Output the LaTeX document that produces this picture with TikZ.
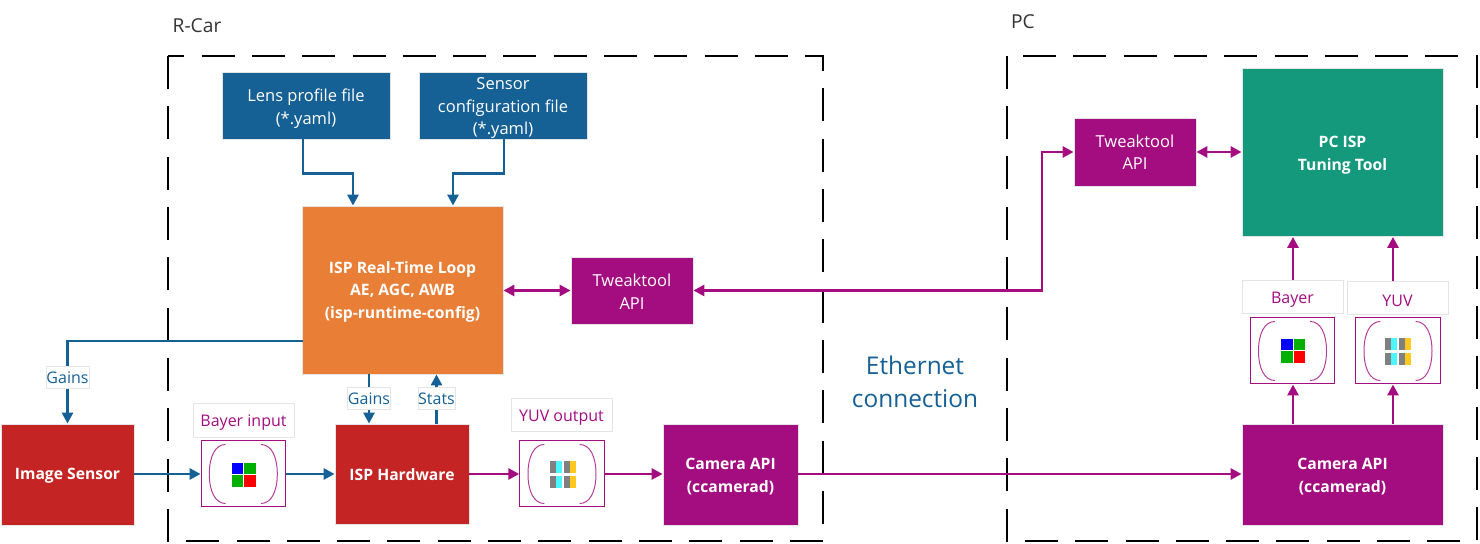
\documentclass[tikz,border=0pt]{standalone}
\usepackage{fontspec}
\setmainfont{Open Sans}
\usetikzlibrary{arrows.meta,calc}
\definecolor{cblue}{HTML}{156095}
\definecolor{cpurple}{HTML}{A30D80}
\definecolor{cgreen}{HTML}{15997D}
\definecolor{corange}{HTML}{E97E36}
\definecolor{cred}{HTML}{C42423}
\definecolor{edgegray}{HTML}{E4E4E4}
\definecolor{ccyan}{HTML}{4DF5FF}
\definecolor{cyell}{HTML}{FFC820}
\definecolor{cgreensq}{HTML}{00B000}
\newcommand{\tstrut}[1]{\rule{0pt}{#1}}
\newcommand{\bayericon}[2]{%
  \fill[blue] (#1-12,#2-12) rectangle (#1-0.5,#2-0.5);
  \fill[cgreensq] (#1+0.5,#2-12) rectangle (#1+12,#2-0.5);
  \fill[cgreensq] (#1-12,#2+0.5) rectangle (#1-0.5,#2+12);
  \fill[red] (#1+0.5,#2+0.5) rectangle (#1+12,#2+12);}
\newcommand{\yuvrow}[2]{%
  \fill[gray] (#1-13,#2) rectangle (#1-7.5,#2+12);
  \fill[ccyan] (#1-7.5,#2) rectangle (#1-1,#2+12);
  \fill[gray] (#1+1,#2) rectangle (#1+6.5,#2+12);
  \fill[cyell] (#1+6.5,#2) rectangle (#1+13,#2+12);}
\newcommand{\yuvicon}[2]{\yuvrow{#1}{#2-13.5}\yuvrow{#1}{#2+1.5}}
\newcommand{\parens}[1]{%
  \draw[parenline] ($(#1.north west)+(25,4)$) .. controls ($(#1.north west)+(15,4)$) and ($(#1.west)+(8.7,-18)$) .. ($(#1.west)+(8.7,0)$) .. controls ($(#1.west)+(8.7,18)$) and ($(#1.south west)+(15,-4)$) .. ($(#1.south west)+(25,-4)$);
  \draw[parenline] ($(#1.north east)+(-25,4)$) .. controls ($(#1.north east)+(-15,4)$) and ($(#1.east)+(-8.7,-18)$) .. ($(#1.east)+(-8.7,0)$) .. controls ($(#1.east)+(-8.7,18)$) and ($(#1.south east)+(-15,-4)$) .. ($(#1.south east)+(-25,-4)$);}
\tikzset{
  x=0.5pt,y=-0.5pt,
  block/.style={inner sep=0pt,align=center,text=white,font=\fontsize{8.25}{11.25}\selectfont,draw=edgegray,line width=0.4pt},
  boldblock/.style={block,font=\fontsize{7.85}{11.25}\selectfont\bfseries},
  lbl/.style={inner sep=0pt,draw=edgegray,line width=0.5pt,fill=white,font=\fontsize{8}{9}\selectfont},
  matbox/.style={inner sep=0pt,draw=cpurple,line width=0.5pt,minimum width=42.2pt,minimum height=33pt},
  parenline/.style={cpurple!80,line width=0.5pt},
  bluecon/.style={cblue,line width=1.4pt,-{Triangle[length=5.5pt,width=5.5pt]}},
  bluecons/.style={cblue,line width=1.4pt},
  purcon/.style={cpurple,line width=1.4pt,-{Triangle[length=5.5pt,width=5.5pt]}},
  purtwo/.style={cpurple,line width=1.4pt,{Triangle[length=5.5pt,width=5.5pt]}-{Triangle[length=5.5pt,width=5.5pt]}},
  region/.style={black,line width=1.1pt,dash pattern=on 16.5pt off 8.65pt},
}
\begin{document}
\begin{tikzpicture}
\useasboundingbox (0,0) rectangle (1480,544);
% regions
\coordinate (rca) at (168,56); \coordinate (rcb) at (823,541);
\coordinate (pca) at (1007,56); \coordinate (pcb) at (1477,541);
\draw[region,dash phase=8.35pt] (rca) -- (rcb |- rca) -- (rcb) -- (rca |- rcb) -- cycle;
\draw[region,dash phase=17.15pt] (pca) -- (pcb |- pca) -- (pcb) -- (pca |- pcb) -- cycle;
\node[font=\fontsize{9.6}{10}\selectfont,text=black!80] (rcar) at (197,26) {R-Car};
\node[font=\fontsize{9.6}{10}\selectfont,text=black!80] (pc) at (1023,22) {PC};
\node[font=\fontsize{12.2}{16.5}\selectfont,text=cblue,align=center] (eth) at (915,382) {Ethernet\\connection};
% blocks
\node[block,fill=cblue,minimum width=84pt,minimum height=33.5pt] (lens) at (306,105.5) {\tstrut{9.3pt}Lens profile file\\(*.yaml)};
\node[block,fill=cblue,minimum width=84pt,minimum height=33.5pt] (sensor) at (503,105.5) {\tstrut{8.9pt}Sensor\\configuration file\\(*.yaml)};
\node[boldblock,fill=corange,minimum width=100.5pt,minimum height=84pt] (loop) at (402.5,290) {\tstrut{7.5pt}ISP Real-Time Loop\\AE, AGC, AWB\\(isp-runtime-config)};
\node[block,fill=cpurple,minimum width=61pt,minimum height=33.5pt] (tw1) at (632,290.5) {\tstrut{7.3pt}Tweaktool\\API};
\node[block,fill=cpurple,minimum width=61pt,minimum height=34pt] (tw2) at (1135,152) {Tweaktool\\API};
\node[boldblock,fill=cgreen,minimum width=100.5pt,minimum height=84pt] (tool) at (1342.5,152.5) {\tstrut{8.6pt}PC ISP\\Tuning Tool};
\node[boldblock,fill=cred,minimum width=66.5pt,minimum height=50.5pt] (imgs) at (67.5,474.5) {\tstrut{6.8pt}Image Sensor};
\node[boldblock,fill=cred,minimum width=67pt,minimum height=50pt] (hw) at (402,474) {\tstrut{7pt}ISP Hardware};
\node[boldblock,fill=cpurple,minimum width=67.5pt,minimum height=50.5pt] (cam1) at (730.5,474.5) {\tstrut{7.6pt}Camera API\\(ccamerad)};
\node[boldblock,fill=cpurple,minimum width=100.5pt,minimum height=50.5pt] (cam2) at (1342.5,474.5) {\tstrut{7.6pt}Camera API\\(ccamerad)};
% matrices
\node[matbox] (mbi) at (243.3,474) {};
\node[matbox] (myo) at (562,474) {};
\node[matbox] (mb) at (1292.5,351) {};
\node[matbox] (my) at (1398,351) {};
\parens{mbi}\parens{myo}\parens{mb}\parens{my}
\bayericon{243.5}{475}\yuvicon{563}{474.5}\bayericon{1293}{351}\yuvicon{1398}{351.5}
% labels
\node[lbl,text=cpurple,minimum width=50.5pt,minimum height=17pt] (lbi) at (243.5,420.5) {\tstrut{8pt}Bayer input};
\node[lbl,text=cpurple,minimum width=50.5pt,minimum height=16.5pt] (lyo) at (561.5,415.5) {\tstrut{8pt}YUV output};
\node[lbl,text=cpurple,minimum width=50.5pt,minimum height=16.5pt] (lb) at (1292.5,297) {\tstrut{8pt}Bayer};
\node[lbl,text=cpurple,minimum width=50.5pt,minimum height=16.5pt] (ly) at (1397.5,298.5) {\tstrut{8pt}YUV};
\node[lbl,text=cblue,minimum width=21pt,minimum height=11pt] (g2) at (369,399) {Gains};
\node[lbl,text=cblue,minimum width=18.5pt,minimum height=11pt] (st) at (436.5,399) {Stats};
\node[lbl,text=cblue,minimum width=21.5pt,minimum height=11pt] (g1) at (67.5,378) {Gains};
% connectors
\coordinate (lsx) at (303,0); \coordinate (lex) at (353,0);
\coordinate (ssx) at (504,0); \coordinate (sex) at (453,0);
\draw[bluecon] (lens.south -| lsx) -- ++(0,34) -| (loop.north -| lex);
\draw[bluecon] (sensor.south -| ssx) -- ++(0,34) -| (loop.north -| sex);
\coordinate (lt) at (303,341);
\draw[bluecons] (lt) -| (g1.north);
\draw[bluecon] (g1.south) -- (imgs.north -| g1);
\draw[bluecons] (loop.south -| g2) -- (g2.north);
\draw[bluecon] (g2.south) -- (hw.north -| g2);
\draw[bluecons] (hw.north -| st) -- (st.south);
\draw[bluecon] (st.north) -- (loop.south -| st);
\draw[bluecon] (imgs.east |- mbi) -- (mbi.west);
\draw[bluecon] (mbi.east) -- (hw.west |- mbi);
\draw[purcon] (hw.east |- myo) -- (myo.west);
\draw[purcon] (myo.east) -- (cam1.west |- myo);
\coordinate (cy) at (0,474);
\draw[purcon] (cam1.east |- cy) -- (cam2.west |- cy);
\draw[purtwo] (loop.east |- tw1) -- (tw1.west);
\coordinate (bend) at (1042,291);
\draw[purtwo] (tw1.east) -| (bend |- tw2) -- (tw2.west);
\draw[purtwo] (tw2.east) -- (tool.west |- tw2);
\coordinate (cx1) at (1293,0); \coordinate (cx2) at (1393,0);
\draw[purcon] (cam2.north -| cx1) -- (mb.south -| cx1);
\draw[purcon] (cam2.north -| cx2) -- (my.south -| cx2);
\draw[purcon] (lb.north -| cx1) -- (tool.south -| cx1);
\draw[purcon] (ly.north -| cx2) -- (tool.south -| cx2);
\end{tikzpicture}
\end{document}
